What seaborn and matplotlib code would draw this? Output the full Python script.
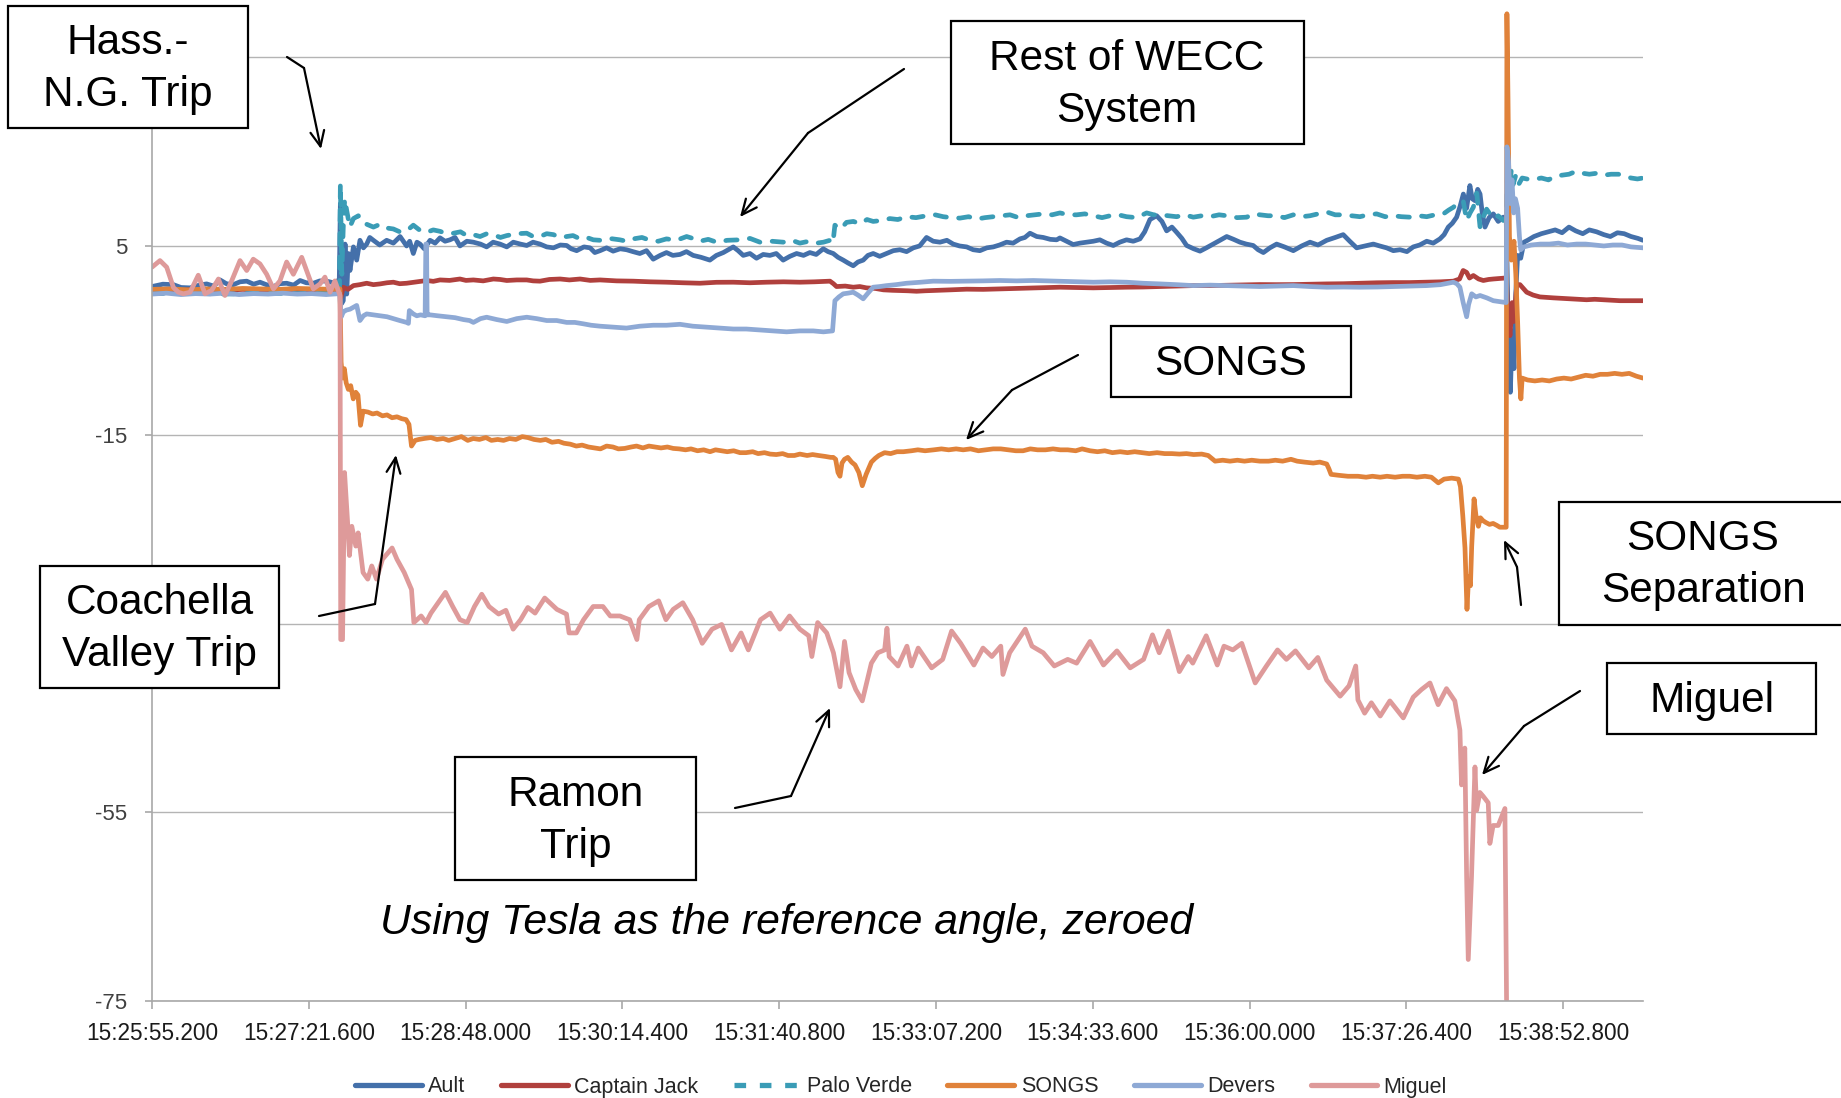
import matplotlib
matplotlib.use("Agg")
import matplotlib.pyplot as plt
import seaborn as sns
import pandas as pd
from matplotlib import font_manager
from matplotlib.lines import Line2D
from matplotlib.patches import Rectangle

# ---------------- data (time in s after 15:25:55.200, angle in degrees) ----------------
series_names = ["Ault", "Captain Jack", "Palo Verde", "SONGS", "Devers", "Miguel"]
series_colors = ["#4470AA", "#B0403D", "#3A9CB6", "#E0823A", "#8EA9D5", "#DE9A9A"]

ault = [(0,0.7),(6,0.95),(11.8,0.9),(16,0.6),(21,0.56),(26,0.85),(30.1,0.98),(34,0.75),(37.5,1.4),(41,1.0),
        (44.8,0.9),(48.5,1.2),(52.2,1.27),(56,0.95),(59.5,1.16),(63,0.9),(66.9,0.7),(70.5,1.0),(74.2,1.05),(78,0.85),
        (81.6,1.34),(85,1.1),(88.9,1.05),(92.5,1.3),(96.3,1.27),(100,1.1),(103.2,1.4),
        (103.8,9.5),(104.5,-1.1),(105.4,-0.8),(106.4,5.2),(107.3,-0.1),(108.2,4.2),(109.1,2.4),(111,4.9),(112.8,3.5),
        (114.6,5.6),(116.5,4.8),(118.3,5.2),(120,5.9),(122,5.6),(125.5,5.1),(129.3,5.6),(133,5.3),(136.7,6.0),(140.3,5.0),
        (142,5.5),(144,4.2),(146,5.4),(147.7,5.2),(150,4.7),(153.2,5.6),(156,5.3),(158.7,5.86),(161.5,5.5),(164.2,5.65),
        (167,5.9),(169.7,5.0),(173.5,5.5),(177.1,5.4),(181,5.2),(184.4,4.9),(188,5.4),(191.8,5.2),(195.5,4.9),(199.1,5.4),
        (203,5.2),(206.5,5.05),(210,5.4),(213.8,5.2),(217.5,4.9),(221.2,4.8),(225,5.1),(228.5,5.05),(231,4.7),(234,4.5),
        (238,4.9),(241.4,4.8),(244,4.3),(246.9,4.5),(250.5,4.8),(254.1,4.45),(258,4.7),(261.5,4.6),(265,4.4),(268.8,4.2),
        (272.5,4.5),(276.2,3.6),(280,4.0),(283.5,4.3),(287,4.0),(290.9,4.1),(294.5,4.4),(298.2,4.0),(302.5,3.8),(307.4,3.5),
        (311,4.0),(314.8,4.3),(317.5,4.6),(320.3,4.9),(323,4.5),(325.8,4.0),(329.5,4.2),(333.1,3.7),(336.8,4.1),(340.5,4.0),
        (344,4.2),(347.8,3.5),(351.5,3.9),(355.2,4.2),(359,4.0),(362.5,4.3),(366,4.1),(369.9,4.7),(372.5,4.4),(375.4,4.2),
        (378,3.8),(380.9,3.5),(383.5,3.2),(386.4,2.9),(389,3.3),(391.9,3.5),(394.5,4.0),(397.4,4.2),(401,3.9),(404.8,4.2),
        (408.5,4.5),(412.1,4.6),(415.8,4.4),(419.5,4.8),(423,5.0),(426.8,5.9),(430.5,5.5),(434.2,5.4),(438,5.6),(441.5,5.2),
        (445,5.0),(448.9,4.9),(452.5,4.6),(456.2,4.5),(460,4.8),(463.6,4.9),(467,5.1),(470.9,5.4),(474.5,5.3),(478.3,5.75),
        (481,5.9),(483.8,6.35),(487.5,6.0),(491.1,5.9),(495,5.7),(498.5,5.65),(500.3,5.85),(504,5.5),(507.6,5.15),(511.3,5.3),
        (515,5.4),(518.7,5.5),(522.3,5.65),(526,5.3),(529.7,5.05),(533.3,5.4),(537,5.65),(540.7,5.5),(544.4,5.75),(547,6.5),
        (549.9,7.8),(553.6,8.2),(556.5,7.6),(559.1,6.6),(562,7.0),(564.6,6.45),(567.5,5.8),(570.1,5.05),(574,4.7),(577.5,4.45),
        (581,4.8),(584.8,5.2),(588.5,5.6),(592.2,6.0),(596,5.7),(599.5,5.4),(603,5.2),(606.8,5.05),(609.5,4.6),(612.4,4.3),
        (616,4.8),(619.7,5.2),(624,4.9),(628.9,4.5),(633.5,5.0),(638.1,5.4),(642.5,5.1),(647.3,5.6),(652,5.9),(656.4,6.2),
        (660,5.5),(663.8,4.8),(668.5,5.0),(673,5.2),(676.5,5.0),(680.3,4.8),(684,4.5),(687.7,4.6),(691.5,4.4),(695,4.9),
        (698.5,5.1),(702.4,5.5),(706,5.3),(709.7,5.75),(712,6.2),(714.3,7.0),(716.5,7.4),(718.9,8.05),(720.8,9.2),(722.6,10.5),
        (724.4,9.0),(726.2,11.4),(727.5,10.0),(729,9.8),(730.5,11.0),(731.8,10.5),(733,8.5),(734.5,7.0),(736.8,8.0),(739.1,8.4),
        (741.8,7.6),(744.6,8.05),(746.2,8.0),(746.8,2.0),(747.5,-6.0),(748.5,-10.5),(749.5,-4.0),(750.5,-8.0),(751.5,0.0),
        (752.5,4.0),(754.2,3.7),(756,5.4),(758,5.6),(761.5,6.0),(765.6,6.3),(769.5,6.5),(773.2,6.7),(777,6.4),(780.8,7.0),
        (784.5,6.6),(788.4,6.3),(792,6.7),(796,6.5),(800,6.2),(803.6,6.0),(807.5,6.4),(811.2,6.3),(815,6.0),(818.8,5.8),(821.6,5.6)]

captain_jack = [(0,0.3),(10,0.2),(20,0.35),(30,0.25),(40,0.3),(50,0.4),(60,0.3),(70,0.35),(80,0.25),(90,0.3),(100,0.35),
        (103.5,0.3),(104,-0.5),(105.4,0.63),(108,0.4),(111,0.8),(114.5,0.9),(118.3,1.05),(122,0.9),(125.7,0.98),(129.5,1.1),
        (133,1.16),(136.5,1.0),(140.3,1.05),(146,1.2),(151.4,1.34),(155,1.25),(158.7,1.4),(164,1.35),(169.7,1.5),(173,1.35),
        (177.1,1.4),(182.5,1.3),(188.1,1.5),(191.8,1.45),(195.5,1.34),(201,1.4),(206.5,1.4),(210,1.3),(213.8,1.27),(219,1.45),
        (224.9,1.5),(230,1.4),(235.9,1.5),(241.5,1.35),(246.9,1.4),(256,1.3),(265.2,1.27),(274.5,1.2),(283.5,1.16),(292.5,1.1),
        (301.9,1.05),(311,1.15),(320.3,1.16),(329.5,1.1),(338.6,1.16),(348,1.2),(357,1.16),(365,1.2),(373.6,1.27),(375.5,1.0),
        (377.2,0.7),(382,0.75),(386.4,0.63),(390,0.7),(393.7,0.56),(398.5,0.5),(403,0.35),(408,0.3),(412.1,0.28),(416.5,0.25),
        (421.3,0.2),(426,0.25),(430.5,0.28),(440,0.35),(448.9,0.42),(458,0.4),(467.2,0.45),(476.5,0.5),(485.6,0.56),(493,0.6),
        (500.3,0.63),(509.5,0.6),(518.7,0.56),(528,0.6),(537,0.63),(546,0.65),(555.4,0.7),(564.5,0.75),(573.8,0.8),(583,0.8),
        (592.2,0.84),(601.5,0.88),(610.5,0.91),(619.5,0.9),(628.9,0.91),(638,0.95),(647.3,0.98),(656.5,1.0),(665.6,1.05),
        (675,1.1),(684,1.12),(693,1.12),(702.4,1.16),(710,1.2),(717.1,1.27),(720.5,1.5),(722.5,2.4),(724.4,2.2),(726,1.6),
        (728.1,1.87),(731,1.5),(733.6,1.34),(736.5,1.45),(739.1,1.5),(742.5,1.55),(745.5,1.6),(746.3,1.7),(747,-2.0),
        (748.3,-4.5),(749.5,-1.0),(750.5,-3.0),(752,0.9),(753.8,0.9),(757.5,0.1),(761,-0.2),(764.8,-0.4),(768.5,-0.45),
        (772.2,-0.5),(777,-0.55),(781.4,-0.6),(786,-0.65),(790.5,-0.7),(795,-0.65),(799.7,-0.7),(804,-0.75),(808.9,-0.8),
        (815,-0.8),(821.6,-0.8)]

palo_verde = [(0,-0.05),(20,0.0),(40,-0.1),(60,0.0),(80,-0.05),(103.3,0.0),
        (103.8,11.6),(104.6,2.0),(105.4,7.0),(106.2,10.0),(107.3,8.75),(109,7.0),(111,7.9),(113.7,8.2),(116,7.5),(118.3,7.3),
        (122,7.0),(125.7,7.3),(129.5,6.9),(133,6.8),(136.5,6.5),(140.3,6.6),(144,7.2),(148,6.6),(151.4,6.45),(155,6.7),
        (158.7,6.55),(162.5,6.3),(166.1,6.35),(170,6.5),(173.4,6.1),(177,6.2),(180.8,6.0),(184.5,6.3),(188.1,6.2),(192,5.9),
        (195.5,6.1),(201,6.3),(206.5,6.35),(210,6.0),(213.8,6.0),(217.5,6.3),(221.2,6.2),(225,5.9),(228.5,6.0),(232,6.1),
        (235.9,5.75),(239.5,5.9),(243.2,5.65),(246.8,5.6),(252,5.8),(257.8,5.65),(261.5,5.5),(265.2,5.75),(270,5.9),
        (274.4,5.6),(279,5.5),(283.5,5.75),(289,5.6),(294.6,6.0),(298,5.8),(301.9,5.5),(306.5,5.7),(311.1,5.4),(317,5.6),
        (323.9,5.65),(329.5,5.8),(335,5.4),(341.5,5.5),(347.8,5.4),(352.5,5.6),(357,5.3),(362,5.5),(366.2,5.3),(370,5.4),
        (373.6,5.6),(375.2,5.3),(376.3,7.2),(379.5,6.8),(382.7,7.5),(386.5,7.6),(390.1,7.35),(394,7.8),(397.4,7.6),(402,7.7),
        (406.6,7.9),(411,7.8),(415.8,8.1),(421,8.0),(426.8,8.2),(431.5,8.3),(436,8.1),(440.5,8.0),(445.2,7.95),(450,8.1),
        (454.4,7.85),(459,8.0),(463.6,8.1),(468,8.2),(472.8,8.3),(477.5,8.0),(481.9,8.2),(486.5,8.3),(491.1,8.4),(496,8.3),
        (500.3,8.5),(505,8.3),(509.5,8.3),(514,8.4),(518.7,8.2),(523.5,8.0),(527.9,8.2),(532.5,8.3),(537,8.1),(542.5,8.0),
        (548.1,8.5),(552,8.3),(555.4,8.3),(560,8.2),(564.6,8.1),(569,8.3),(573.8,8.05),(578.5,8.2),(583,8.1),(588,8.3),
        (592.2,8.2),(598,8.0),(603.2,8.05),(607,8.4),(610.5,8.3),(615,8.2),(619.7,8.2),(624,8.0),(628.9,8.3),(633.5,8.1),
        (638.1,8.2),(642.5,8.4),(647.3,8.6),(652,8.3),(656.4,8.3),(661,8.2),(665.6,8.1),(670,8.3),(674.8,8.4),(679.5,8.1),
        (684,8.2),(688.5,8.1),(693.2,8.05),(698,8.2),(702.4,8.1),(707,8.3),(711.6,8.4),(714.5,8.8),(717.1,9.1),(720.7,9.8),
        (722.6,9.7),(724.4,7.7),(726.3,8.5),(728.1,9.1),(730,10.6),(731.8,7.0),(733.5,8.0),(735.4,8.9),(737.2,8.4),(739.1,7.9),
        (741.8,8.2),(744.6,7.7),(746.3,8.0),(747,13.5),(748,11.0),(749,13.0),(750,11.5),(751.5,12.5),(753,11.5),(755,12.2),
        (760,12.0),(765.6,12.2),(769.5,12.0),(773.2,12.4),(777,12.5),(780.8,12.6),(784.6,12.9),(788.5,12.7),(792,12.6),
        (796,12.7),(800,12.5),(804,12.6),(808,12.6),(812,12.4),(815,12.2),(818.5,12.1),(821.6,12.2)]

songs = [(0,0.4),(10,0.45),(20,0.35),(30,0.45),(40,0.4),(50,0.5),(60,0.45),(70,0.4),(80,0.5),(90,0.45),(100,0.4),(103.6,0.45),
        (104.2,-7.3),(105.0,-9.0),(106,-8.0),(107,-9.5),(108.2,-10.2),(109.5,-9.8),(110.9,-11.2),(112.3,-10.5),(113.5,-10.8),
        (114.9,-14.0),(116.3,-12.5),(119,-12.6),(121.6,-12.8),(124,-12.7),(127,-13.0),(129.5,-12.9),(132.3,-13.2),(135,-13.1),
        (137.6,-13.3),(140,-13.4),(141.6,-13.9),(143,-16.2),(145,-15.6),(147,-15.5),(150,-15.4),(153.7,-15.3),(157,-15.5),
        (160.5,-15.4),(163.5,-15.6),(167,-15.4),(170.5,-15.2),(174,-15.6),(177,-15.4),(180.4,-15.5),(184,-15.3),(187,-15.6),
        (190.5,-15.5),(193.7,-15.6),(197,-15.4),(200.5,-15.5),(204,-15.2),(207.1,-15.3),(210.5,-15.5),(214,-15.6),(217,-15.5),
        (220.4,-15.8),(224,-15.7),(227,-15.9),(230.5,-16.0),(233.8,-16.2),(237,-16.1),(240.5,-16.3),(244,-16.4),(247.1,-16.5),
        (250.5,-16.2),(254,-16.3),(257,-16.5),(260.5,-16.45),(264,-16.3),(267,-16.2),(270.5,-16.4),(273.8,-16.2),(277,-16.3),
        (280.5,-16.4),(284,-16.3),(287.2,-16.45),(290.5,-16.5),(294,-16.6),(297,-16.5),(300.6,-16.7),(304,-16.6),(307.5,-16.8),
        (310.5,-16.6),(313.9,-16.7),(317,-16.8),(320.5,-16.7),(324,-16.9),(327.3,-16.9),(331,-16.8),(334,-17.0),(337.5,-16.9),
        (340.6,-17.05),(344,-17.1),(347.5,-17.0),(350.5,-17.2),(354,-17.2),(357,-17.05),(361,-17.2),(364,-17.1),(367.3,-17.2),
        (371,-17.3),(374,-17.4),(375.4,-17.4),(376.7,-17.6),(378,-19.0),(379.1,-19.4),(380.2,-18.0),(381.6,-17.6),(383.4,-17.4),
        (385.5,-17.9),(387.4,-18.2),(389.5,-19.0),(391.4,-20.4),(393.5,-19.2),(396.4,-17.9),(398.5,-17.5),(400.5,-17.2),
        (403.7,-16.9),(407,-17.0),(410.5,-16.8),(414,-16.8),(418.5,-16.7),(422,-16.6),(426,-16.7),(430.8,-16.6),(435,-16.5),
        (439,-16.6),(443.1,-16.5),(447,-16.6),(451,-16.5),(455.4,-16.7),(459.5,-16.6),(463.5,-16.5),(467.7,-16.5),(472,-16.6),
        (476,-16.7),(480,-16.7),(484,-16.5),(488,-16.6),(492.3,-16.6),(496.5,-16.5),(500.5,-16.6),(504.6,-16.6),(509,-16.7),
        (512.5,-16.5),(516.9,-16.7),(521,-16.8),(525,-16.7),(529.2,-16.9),(533.5,-16.8),(537.5,-16.9),(541.5,-16.8),
        (545.5,-16.9),(549.5,-17.0),(553.8,-16.9),(558,-17.0),(562,-17.0),(566.1,-17.05),(570,-17.0),(574,-17.1),(578.4,-17.05),
        (582,-17.2),(585.8,-17.8),(590,-17.7),(594,-17.8),(598.1,-17.7),(602,-17.8),(606,-17.7),(610.5,-17.8),(615.3,-17.8),
        (619,-17.7),(623,-17.8),(627.6,-17.6),(631,-17.8),(635,-17.9),(639.9,-18.0),(643.5,-17.9),(647.3,-18.1),(648.5,-18.6),
        (649.7,-19.2),(654,-19.3),(659,-19.4),(664.5,-19.4),(669,-19.5),(672.5,-19.4),(676.8,-19.5),(680.5,-19.4),(685,-19.5),
        (689.1,-19.4),(693,-19.4),(697,-19.5),(701.4,-19.4),(705,-19.5),(708.8,-20.1),(712,-19.7),(716.2,-19.6),(719.9,-19.7),
        (721,-20.5),(722.3,-23.6),(723.5,-27.0),(724.6,-33.5),(725.5,-30.0),(726.5,-31.0),(727.2,-26.8),(728.5,-21.8),
        (729.5,-23.5),(730.9,-24.7),(732,-23.8),(733.4,-24.1),(735,-24.3),(737,-24.5),(739,-24.4),(741,-24.6),(742.7,-24.8),
        (745,-24.8),(746.2,-24.8),(746.6,29.6),(747.2,20.6),(748,6.0),(749,3.5),(750.5,5.5),(751.5,2.0),(752.5,-3.0),
        (753.5,-9.0),(754.3,-11.2),(755,-9.0),(758,-9.2),(762,-9.3),(766,-9.2),(770,-9.3),(774,-9.1),(778,-9.0),(782,-9.1),
        (786,-8.9),(790,-8.7),(794,-8.8),(798,-8.6),(802,-8.6),(806,-8.5),(810,-8.6),(814,-8.5),(818,-8.8),(821.6,-9.0)]

devers = [(0,-0.1),(8,0.0),(16,-0.15),(24,-0.05),(32,-0.1),(40,0.0),(48,-0.15),(56,-0.05),(64,-0.1),(72,0.0),(80,-0.1),
        (88,-0.05),(96,-0.15),(103.4,-0.05),(104.3,-2.5),(105.4,-2.0),(107,-1.8),(109.1,-1.7),(111,-1.5),(112.8,-1.3),
        (114.6,-2.9),(116.5,-2.4),(118.3,-2.2),(122,-2.3),(125.7,-2.4),(129.5,-2.5),(133,-2.7),(136.5,-2.9),(140.3,-3.1),
        (141.3,-3.2),(141.8,-1.85),(144,-2.2),(145.9,-2.4),(148,-2.3),(150.5,-2.4),(150.9,5.2),(151.3,5.2),(151.6,-2.3),
        (153.2,-2.3),(157.5,-2.4),(162.4,-2.5),(167,-2.6),(171.6,-2.8),(175,-2.9),(177.1,-3.1),(181,-2.7),(184.4,-2.55),
        (190,-2.8),(195.5,-3.0),(201,-2.7),(206.5,-2.55),(212,-2.7),(217.5,-2.9),(223,-2.9),(228.5,-3.1),(233,-3.1),
        (237.7,-3.25),(242,-3.4),(246.9,-3.5),(254,-3.6),(261.5,-3.7),(268.8,-3.5),(276.2,-3.4),(283.5,-3.4),(290.9,-3.3),
        (298,-3.5),(305.6,-3.6),(313,-3.7),(320.3,-3.8),(327.5,-3.8),(335,-3.9),(342.5,-4.0),(349.7,-4.1),(357,-4.0),
        (364.4,-4.0),(370,-4.1),(375,-4.0),(376.3,-0.8),(378.5,-0.4),(380.9,-0.07),(383.5,0.0),(386.4,0.1),(389,-0.2),
        (391.9,-0.6),(394.5,0.0),(397.4,0.63),(401,0.7),(404.8,0.8),(410,0.9),(415.8,1.05),(423,1.15),(430.5,1.27),(440,1.25),
        (448.9,1.27),(458,1.3),(467.2,1.34),(476.5,1.3),(485.6,1.34),(493,1.3),(500.3,1.27),(509.5,1.2),(518.7,1.16),(528,1.2),
        (537,1.16),(546,1.05),(555.4,0.98),(564.5,0.9),(573.8,0.8),(583,0.85),(592.2,0.8),(601.5,0.75),(610.5,0.7),
        (619.5,0.75),(628.9,0.8),(638,0.7),(647.3,0.63),(656.5,0.65),(665.6,0.63),(675,0.65),(684,0.7),(693,0.75),(702.4,0.8),
        (710,0.9),(717.1,1.16),(719,1.0),(720.7,0.63),(722.5,-1.0),(724.4,-2.5),(725.5,-1.2),(727.2,-0.07),(729.5,-0.4),
        (731.8,-0.25),(735.5,-0.5),(739.1,-0.8),(742.5,-0.9),(745.5,-1.0),(746.2,-1.0),(746.6,15.5),(747.5,14.0),(748.3,9.5),
        (749.4,12.0),(750.3,8.5),(751.3,10.0),(752.5,9.0),(753.5,6.0),(754.2,4.6),(756,4.9),(760,5.1),(765,5.2),(770,5.2),
        (775,5.3),(780,5.1),(785,5.2),(790,5.2),(795,5.1),(800,5.0),(805,5.1),(810,5.1),(815,4.9),(821.6,4.8)]

miguel = [(0,2.75),(4.4,3.45),(8.1,2.75),(11.8,0.6),(14.5,0.1),(17.3,-0.07),(21,0.1),(25.5,1.9),(29.2,-0.07),(32.9,0.3),
        (36.6,1.5),(40.2,-0.25),(43.9,1.3),(48.5,3.45),(52.2,2.4),(55.8,3.6),(59.5,3.1),(63.2,2.0),(66.9,0.45),(70.5,1.3),
        (74.2,3.3),(77.9,2.0),(82.5,3.8),(85.2,2.4),(88.9,0.45),(92.6,0.98),(95.3,1.7),(98.1,0.1),(100.8,1.3),(103.6,-0.25),
        (104.0,-36.7),(105.0,-36.7),(106.1,-19.0),(107.7,-24.0),(108.8,-27.8),(110.1,-24.7),(112.3,-26.8),(113.6,-25.4),
        (116.3,-29.6),(118.9,-30.3),(121.1,-28.9),(123.7,-30.3),(127,-28.2),(132.3,-27.0),(135,-28.2),(139,-29.6),(143,-31.4),
        (144.3,-34.9),(148.3,-34.2),(151,-34.9),(153.7,-33.9),(157.7,-32.8),(161.7,-31.7),(165.7,-33.2),(169.7,-34.6),
        (173.7,-34.9),(177.7,-33.2),(181.7,-31.9),(185.7,-33.2),(191,-34.0),(195,-33.6),(199,-35.6),(203.1,-34.6),(207.1,-33.3),
        (211.1,-33.9),(216.4,-32.3),(223.1,-33.5),(228.4,-34.0),(229.8,-36.0),(233.8,-36.0),(237.8,-34.6),(243.1,-33.2),
        (248.5,-33.2),(252.5,-34.2),(257.8,-34.2),(263.2,-34.6),(267.2,-36.7),(268.5,-34.6),(273.8,-33.2),(279.2,-32.6),
        (283.2,-34.6),(287.2,-33.5),(292.5,-32.8),(297.9,-34.6),(303.2,-37.1),(308.6,-35.6),(313.9,-35.1),(319.3,-37.8),
        (324.6,-36.0),(328.6,-37.8),(335.3,-34.6),(340.6,-33.9),(346,-35.6),(351.3,-34.2),(357,-35.6),(361.9,-36.3),
        (363.6,-38.5),(366.8,-34.9),(371.8,-36.0),(375.5,-38.1),(379.1,-41.7),(381.6,-36.9),(384.1,-40.2),(387.8,-42.0),
        (391.4,-43.2),(396.4,-39.2),(400,-38.1),(403.7,-37.8),(405,-35.5),(406.2,-38.5),(411.1,-39.5),(416,-37.4),(418.5,-39.5),
        (422.2,-37.6),(429.6,-39.7),(435.7,-38.8),(440.6,-35.8),(445.6,-37.1),(452.9,-39.4),(457.9,-37.6),(462.8,-38.5),
        (467.7,-37.4),(468.9,-40.4),(472.6,-38.1),(481.2,-35.6),(484.9,-37.4),(491.1,-38.1),(497.2,-39.5),(504.6,-38.8),
        (509.5,-39.2),(516.9,-36.9),(524.3,-39.4),(531.7,-37.9),(539,-39.7),(546.4,-38.8),(551.3,-36.2),(555,-38.1),(560,-35.8),
        (566.1,-40.1),(571,-38.5),(573.5,-39.2),(580.9,-36.3),(587,-39.4),(590.7,-37.4),(595.6,-37.8),(600.5,-37.1),
        (607.9,-41.3),(614.1,-39.5),(620.2,-37.8),(625.1,-38.8),(630.1,-37.9),(637.4,-39.7),(642.4,-38.6),(647.3,-41.0),
        (654.7,-42.7),(659.6,-41.6),(663.3,-39.5),(664.5,-43.1),(668.2,-44.5),(671.9,-43.4),(676.8,-44.8),(682.1,-43.2),
        (689.5,-45.0),(695,-42.8),(699.5,-42.0),(704.2,-41.3),(708.7,-43.6),(713.3,-41.9),(717.9,-43.2),(720.7,-46.3),
        (721.6,-52.1),(723.4,-48.2),(724.4,-61.8),(725.3,-70.6),(727.1,-61.8),(729,-50.2),(729.9,-54.8),(731.7,-52.9),
        (733.5,-53.3),(736.3,-54.0),(737.2,-58.3),(739,-56.4),(741.8,-56.4),(745.5,-54.6),(746.4,-74.9)]

all_series = [ault, captain_jack, palo_verde, songs, devers, miguel]

x_tick_pos = [0, 86.4, 172.8, 259.2, 345.6, 432.0, 518.4, 604.8, 691.2, 777.6]
x_tick_labels = ["15:25:55.200", "15:27:21.600", "15:28:48.000", "15:30:14.400", "15:31:40.800",
                 "15:33:07.200", "15:34:33.600", "15:36:00.000", "15:37:26.400", "15:38:52.800"]
y_tick_pos = [-75, -55, -35, -15, 5, 25]
# labels at 25 and -35 are hidden behind the annotation boxes in the original
y_tick_labels = ["-75", "-55", "", "-15", "5", ""]

# ---------------- style ----------------
sns.set_style("white")
avail = {f.name for f in font_manager.fontManager.ttflist}
narrow = "Liberation Sans Narrow" if "Liberation Sans Narrow" in avail else "Liberation Sans"
narrow_size = 19 if narrow == "Liberation Sans Narrow" else 16.3
legend_size = 18.5 if narrow == "Liberation Sans Narrow" else 15.5
plt.rcParams["font.family"] = ["Liberation Sans", "DejaVu Sans"]

fig = plt.figure(figsize=(18.41, 10.98), dpi=100)
ax = fig.add_axes([0.08256, 0.0883, 0.8099, 0.9026])

rows = []
for name, data in zip(series_names, all_series):
    for i, (t, v) in enumerate(data):
        rows.append({"series": name, "t": t, "angle": v, "i": i})
df = pd.DataFrame(rows)

lw = 3.4
for name, color in zip(series_names, series_colors):
    sub = df[df["series"] == name].sort_values("i")
    kw = dict(solid_joinstyle="round")
    if name == "Palo Verde":
        kw = dict(linestyle=(0, (2.4, 2.6)), dash_capstyle="round", solid_joinstyle="round")
    sns.lineplot(data=sub, x="t", y="angle", ax=ax, color=color, linewidth=lw,
                 estimator=None, sort=False, legend=False, **kw)

ax.set_xlim(0, 821.6)
ax.set_ylim(-75, 30)
ax.set_xlabel("")
ax.set_ylabel("")
ax.set_xticks(x_tick_pos)
ax.set_xticklabels(x_tick_labels, fontsize=narrow_size, family=narrow, color="#1a1a1a")
ax.set_yticks(y_tick_pos)
ax.set_yticklabels(y_tick_labels, fontsize=16, color="#404040")
ax.yaxis.grid(True, color="#B4B4B4", linewidth=1.0)
ax.xaxis.grid(False)
for s in ["top", "right"]:
    ax.spines[s].set_visible(False)
for s in ["left", "bottom"]:
    ax.spines[s].set_color("#A8A8A8")
    ax.spines[s].set_linewidth(1.2)
ax.tick_params(axis="x", direction="out", length=6, width=1.2, color="#A8A8A8", pad=9, bottom=True)
ax.tick_params(axis="y", direction="out", length=5, width=1.2, color="#A8A8A8", pad=13, left=True)

handles = []
for name, color in zip(series_names, series_colors):
    if name == "Palo Verde":
        h = Line2D([], [], color=color, lw=3.8, linestyle=(0, (2.2, 2.6)))
    else:
        h = Line2D([], [], color=color, lw=3.8, solid_capstyle="round")
    handles.append(h)
fig.legend(handles, series_names, loc="center", bbox_to_anchor=(0.4894, 11 / 1098), ncol=6, frameon=False,
           handlelength=3.1, handletextpad=0.3, columnspacing=1.65, prop={"family": narrow, "size": legend_size})

# ---------------- annotations (overlay in figure pixels, y downward) ----------------
ov = fig.add_axes([0, 0, 1, 1], zorder=10)
ov.set_xlim(0, 1841)
ov.set_ylim(1098, 0)
ov.axis("off")
ov.patch.set_alpha(0)

boxes = [
    ((8, 6, 240, 122), (128, 69), "Hass.-\nN.G. Trip"),
    ((951, 21, 353, 123), (1127, 85), "Rest of WECC\nSystem"),
    ((1111, 326, 240, 71), (1231, 364), "SONGS"),
    ((40, 566, 239, 122), (160, 629), "Coachella\nValley Trip"),
    ((1559, 502, 300, 123), (1703, 565), "SONGS\nSeparation"),
    ((1607, 663, 209, 71), (1712, 701), "Miguel"),
    ((455, 757, 241, 123), (576, 821), "Ramon\nTrip"),
]
for (x0, y0, w, h), (cx, cy), txt in boxes:
    ov.add_patch(Rectangle((x0, y0), w, h, facecolor="white", edgecolor="black", linewidth=1.6))
    ov.text(cx, cy, txt, ha="center", va="center", fontsize=30.5, color="black", linespacing=1.38)

arrows = [
    ((287, 57), (304, 68), (321, 149)),
    ((904, 69), (808, 133), (740, 217)),
    ((1078, 355), (1012, 390), (966, 440)),
    ((319, 616), (375, 604), (396, 455)),
    ((1521, 605), (1517, 567), (1504, 540)),
    ((1580, 691), (1524, 726), (1482, 775)),
    ((735, 808), (791, 796), (830, 708)),
]
for p0, p1, p2 in arrows:
    ov.plot([p0[0], p1[0]], [p0[1], p1[1]], color="black", lw=1.6, solid_capstyle="round")
    ov.annotate("", xy=p2, xytext=p1,
                arrowprops=dict(arrowstyle="->,head_length=1.1,head_width=0.5", color="black",
                                lw=1.6, shrinkA=0, shrinkB=0))

ov.text(787, 923, "Using Tesla as the reference angle, zeroed", ha="center", va="center",
        fontsize=30.8, style="italic", color="black")

fig.savefig("out.png", dpi=100)
